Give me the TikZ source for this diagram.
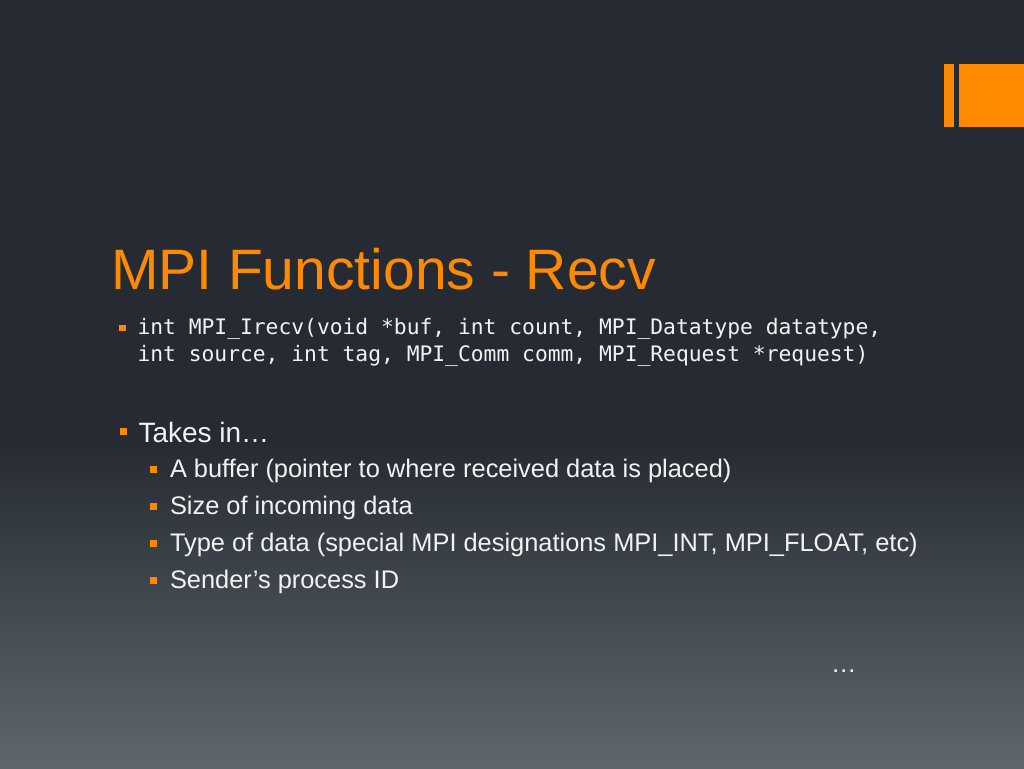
\documentclass[tikz,border=0pt]{standalone}
\usepackage{fontspec}
\setmainfont{Liberation Sans}
\newfontfamily\codefont{DejaVu Sans Mono}
\definecolor{bgtop}{HTML}{262B33}
\definecolor{bgbot}{HTML}{5F666D}
\definecolor{accent}{HTML}{FF8A00}
\definecolor{txt}{HTML}{F2F2F2}
\begin{document}
\begin{tikzpicture}[x=1pt,y=-1pt,
  lbl/.style={anchor=base west,inner sep=0pt,outer sep=0pt,text=txt},
  titlelbl/.style={lbl,text=accent,font=\fontsize{57}{60}\selectfont},
  codelbl/.style={lbl,font=\codefont\fontsize{21.3}{27}\selectfont},
  mainlbl/.style={lbl,font=\fontsize{28}{32}\selectfont},
  sublbl/.style={lbl,font=\fontsize{25.4}{30}\selectfont},
  bul/.style={fill=accent}]
\useasboundingbox (0,0) rectangle (1024,768);
% background
\fill[bgtop] (0,0) rectangle (1024,441);
\shade[top color=bgtop,bottom color=bgbot] (0,440) rectangle (1024,768);
% logo bars
\fill[accent] (944,64) rectangle (954.3,127);
\fill[accent] (959,64) rectangle (1024,127);
% title
\node[titlelbl] (title) at (111,289) {MPI Functions - Recv};
% code bullet
\fill[bul] (119,324.5) rectangle (125.5,331);
\node[codelbl] (code1) at (137.5,334) {int MPI\_Irecv(void *buf, int count, MPI\_Datatype datatype,};
\node[codelbl] (code2) at (137.5,361) {int source, int tag, MPI\_Comm comm, MPI\_Request *request)};
% main bullet
\fill[bul] (120,428) rectangle (127,435);
\node[mainlbl] (takes) at (138.5,442) {Takes in…};
% sub bullets
\foreach \y/\t [count=\i] in {477/{A buffer (pointer to where received data is placed)},
  514/{Size of incoming data},
  551/{Type of data (special MPI designations MPI\_INT, MPI\_FLOAT, etc)},
  588/{Sender’s process ID}}{
  \fill[bul] (150,\y-11.5) rectangle (157,\y-4.5);
  \node[sublbl] (sub\i) at (170,\y) {\t};
}
\node[sublbl] (dots) at (831,672) {…};
\end{tikzpicture}
\end{document}
